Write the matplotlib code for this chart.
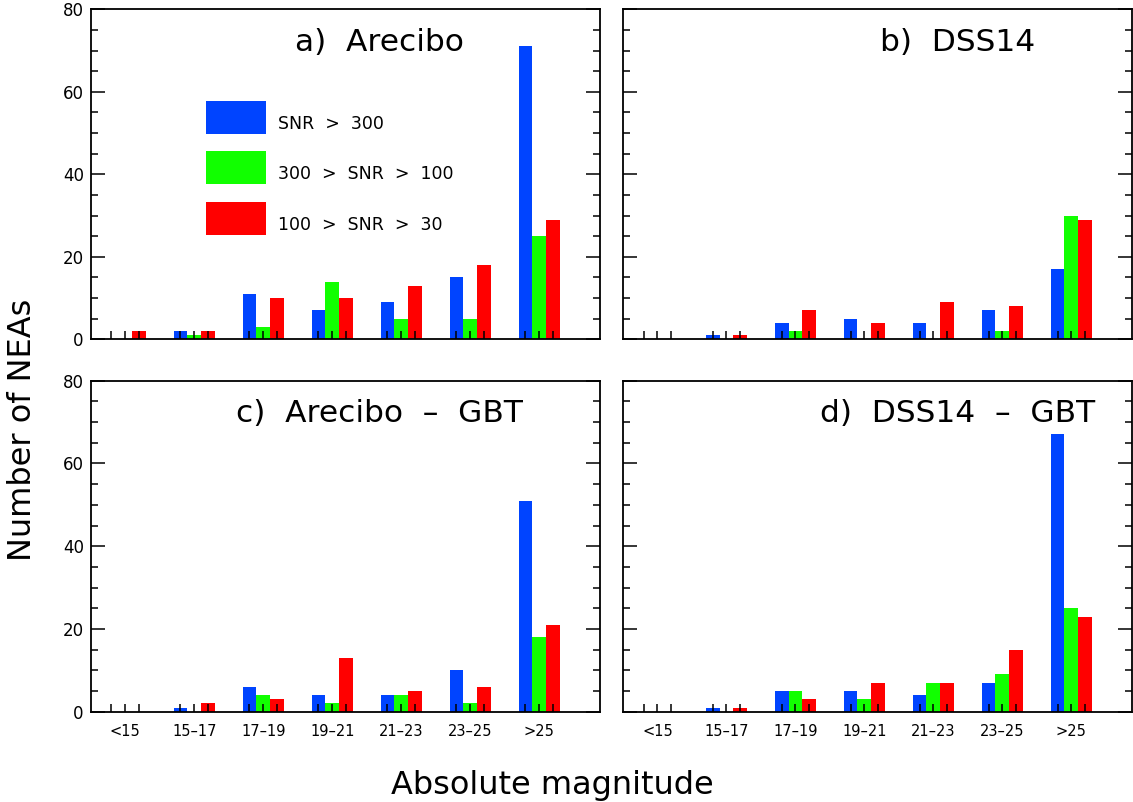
import matplotlib
matplotlib.use('Agg')
import matplotlib.pyplot as plt
from matplotlib.patches import Rectangle
from matplotlib.ticker import MultipleLocator
import numpy as np

# magnitude bins
bins = ['<15', '15–17', '17–19', '19–21', '21–23', '23–25', '>25']
snr_labels = ['SNR  >  300', '300  >  SNR  >  100', '100  >  SNR  >  30']
colors = ['#0044ff', '#11ff00', '#ff0000']

# counts per bin: SNR>300, 300>SNR>100, 100>SNR>30
arecibo_hi = [0, 2, 11, 7, 9, 15, 71]
arecibo_mid = [0, 1, 3, 14, 5, 5, 25]
arecibo_lo = [2, 2, 10, 10, 13, 18, 29]

dss14_hi = [0, 1, 4, 5, 4, 7, 17]
dss14_mid = [0, 0, 2, 0, 0, 2, 30]
dss14_lo = [0, 1, 7, 4, 9, 8, 29]

arecibo_gbt_hi = [0, 1, 6, 4, 4, 10, 51]
arecibo_gbt_mid = [0, 0, 4, 2, 4, 2, 18]
arecibo_gbt_lo = [0, 2, 3, 13, 5, 6, 21]

dss14_gbt_hi = [0, 1, 5, 5, 4, 7, 67]
dss14_gbt_mid = [0, 0, 5, 3, 7, 9, 25]
dss14_gbt_lo = [0, 1, 3, 7, 7, 15, 23]

panels = [
    ('a)  Arecibo', [arecibo_hi, arecibo_mid, arecibo_lo]),
    ('b)  DSS14', [dss14_hi, dss14_mid, dss14_lo]),
    ('c)  Arecibo  –  GBT', [arecibo_gbt_hi, arecibo_gbt_mid, arecibo_gbt_lo]),
    ('d)  DSS14  –  GBT', [dss14_gbt_hi, dss14_gbt_mid, dss14_gbt_lo]),
]

W, H = 1133, 802
fig = plt.figure(figsize=(W / 100, H / 100), dpi=100)

# axes boxes in pixels: left, top, right, bottom
boxes = [(90.7, 9.3, 600, 339.3), (623, 9.3, 1132, 339.3),
         (90.7, 380.7, 600, 711.7), (623, 380.7, 1132, 711.7)]
title_x = [0.566, 0.658, 0.566, 0.658]

x = np.arange(len(bins))
bw = 0.2
offsets = [-bw, 0, bw]

for k, ((title, series), (l, t, r, b)) in enumerate(zip(panels, boxes)):
    ax = fig.add_axes([l / W, 1 - b / H, (r - l) / W, (b - t) / H])
    for vals, off, c in zip(series, offsets, colors):
        ax.bar(x + off, vals, width=bw, color=c, linewidth=0)
    ax.set_xlim(-0.5, 6.88)
    ax.set_ylim(0, 80)
    ax.yaxis.set_major_locator(MultipleLocator(20))
    ax.yaxis.set_minor_locator(MultipleLocator(5))
    ax.tick_params(axis='y', which='major', direction='in', length=10,
                   width=1.1, left=True, right=True, labelsize=12, pad=5)
    ax.tick_params(axis='y', which='minor', direction='in', length=5,
                   width=1.1, left=True, right=True)
    # small ticks under every bar, label only on the middle one
    pos = (x[:, None] + np.array(offsets)[None, :]).ravel()
    labs = []
    for name in bins:
        labs += ['', name, '']
    ax.set_xticks(pos)
    ax.tick_params(axis='x', direction='in', length=6, width=1.1, pad=9,
                   labelsize=10.5)
    if k >= 2:
        ax.set_xticklabels(labs)
    else:
        ax.set_xticklabels([])
    if k % 2 == 1:
        ax.set_yticklabels([])
    for s in ax.spines.values():
        s.set_linewidth(1.3)
    ax.text(title_x[k], 0.9, title, transform=ax.transAxes, fontsize=22.5,
            ha='center', va='center')

    if k == 0:
        # hand-made legend
        box_y = [0.623, 0.4706, 0.316]
        txt_y = [0.6524, 0.5009, 0.3464]
        for c, by, ty, lab in zip(colors, box_y, txt_y, snr_labels):
            ax.add_patch(Rectangle((0.2264, by), 0.118, 0.1, color=c,
                                   transform=ax.transAxes, linewidth=0))
            ax.text(0.368, ty, lab, transform=ax.transAxes, fontsize=12.5,
                    ha='left', va='center')

fig.text(552 / W, 1 - 794 / H, 'Absolute magnitude', fontsize=23,
         ha='center', va='baseline')
fig.text(23 / W, 1 - 430 / H, 'Number of NEAs', fontsize=23,
         ha='center', va='center', rotation=90)

fig.savefig('out.png', dpi=100)
